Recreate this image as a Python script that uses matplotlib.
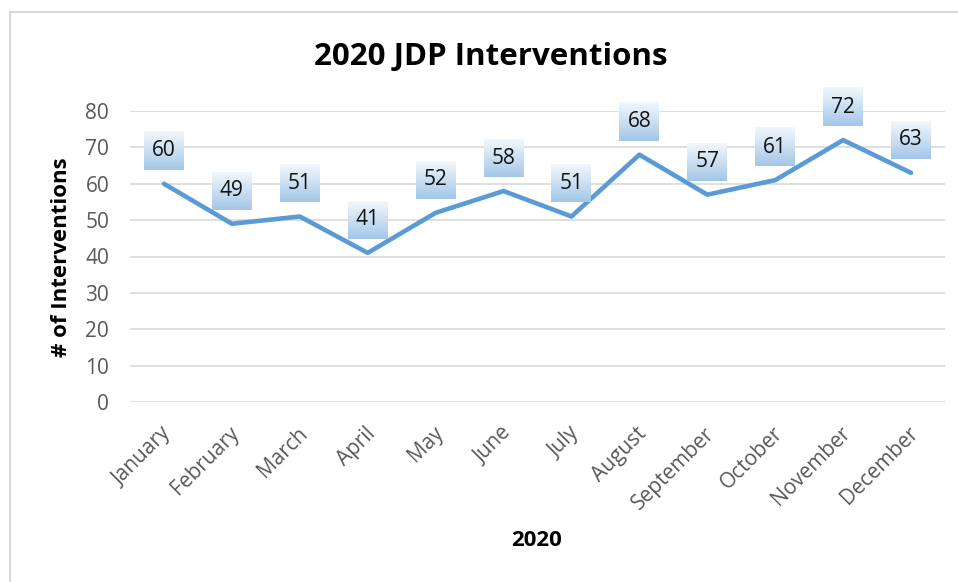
import numpy as np
import matplotlib
matplotlib.use("Agg")
import matplotlib.pyplot as plt
import matplotlib.transforms as mtransforms
from matplotlib.patches import Rectangle

plt.rcParams['font.family'] = ['Open Sans', 'DejaVu Sans']

# -------------------- data --------------------
months = ["January", "February", "March", "April", "May", "June",
          "July", "August", "September", "October", "November", "December"]
interventions = [60, 49, 51, 41, 52, 58, 51, 68, 57, 61, 72, 63]
y_ticks = [0, 10, 20, 30, 40, 50, 60, 70, 80]

W, H = 958, 582
fig = plt.figure(figsize=(W / 100, H / 100), dpi=100)

# light frame round the chart area (runs off right and bottom)
fig.patches.append(Rectangle((10 / W, -0.1), 1.2, 1 - 12 / H + 0.1,
                             transform=fig.transFigure, fill=False,
                             edgecolor="#D9D9D9", linewidth=1.5))

ax = fig.add_axes([130 / W, 1 - 402 / H, (945 - 130) / W, (402 - 111) / H])
x = np.arange(len(months))
ax.set_xlim(-0.5, len(months) - 0.5)
ax.set_ylim(0, 80)

ax.plot(x, interventions, color="#5B9BD5", linewidth=3.3,
        solid_capstyle="round", solid_joinstyle="round", zorder=3)

ax.set_yticks(y_ticks)
ax.yaxis.grid(True, color="#D9D9D9", linewidth=1.2)
ax.set_axisbelow(True)
for s in ax.spines.values():
    s.set_visible(False)
ax.tick_params(axis="both", length=0, labelsize=15, labelcolor="#595959")
ax.tick_params(axis="y", pad=15)
ax.tick_params(axis="x", pad=15)

ax.set_xticks(x)
ax.set_xticklabels(months, rotation=45, ha="right", rotation_mode="anchor")
shift = mtransforms.ScaledTranslation(-3 / 100, 0, fig.dpi_scale_trans)
for lab in ax.get_xticklabels():
    lab.set_transform(lab.get_transform() + shift)

# data labels in gradient boxes
grad = np.linspace(0, 1, 64).reshape(-1, 1)
top_c = np.array([0.95, 0.97, 0.99])
bot_c = np.array([0.64, 0.78, 0.91])
img = top_c[None, None, :] * (1 - grad[:, :, None]) + bot_c[None, None, :] * grad[:, :, None]
inv = ax.transData.inverted()
for i, v in enumerate(interventions):
    px, py = ax.transData.transform((i, v))
    cy = py + 33
    x0, y0 = inv.transform((px - 20, cy - 19))
    x1, y1 = inv.transform((px + 20, cy + 19))
    ax.imshow(img, extent=(x0, x1, y0, y1), aspect="auto", zorder=4,
              interpolation="bilinear", clip_on=False)
    tx, ty = inv.transform((px, cy))
    ax.text(tx, ty, str(v), ha="center", va="center", fontsize=15,
            color="#111111", zorder=5, clip_on=False)
ax.set_xlim(-0.5, len(months) - 0.5)
ax.set_ylim(0, 80)

fig.text(491 / W, 1 - 57 / H, "2020 JDP Interventions", ha="center", va="center",
         fontsize=22.5, fontweight="bold", color="black")
fig.text(62 / W, 1 - 257 / H, "# of Interventions", ha="center", va="center",
         rotation=90, fontsize=16, fontweight="bold", color="black")
fig.text(537 / W, 1 - 541 / H, "2020", ha="center", va="center",
         fontsize=16, fontweight="bold", color="black")

fig.savefig("out.png", dpi=100)
